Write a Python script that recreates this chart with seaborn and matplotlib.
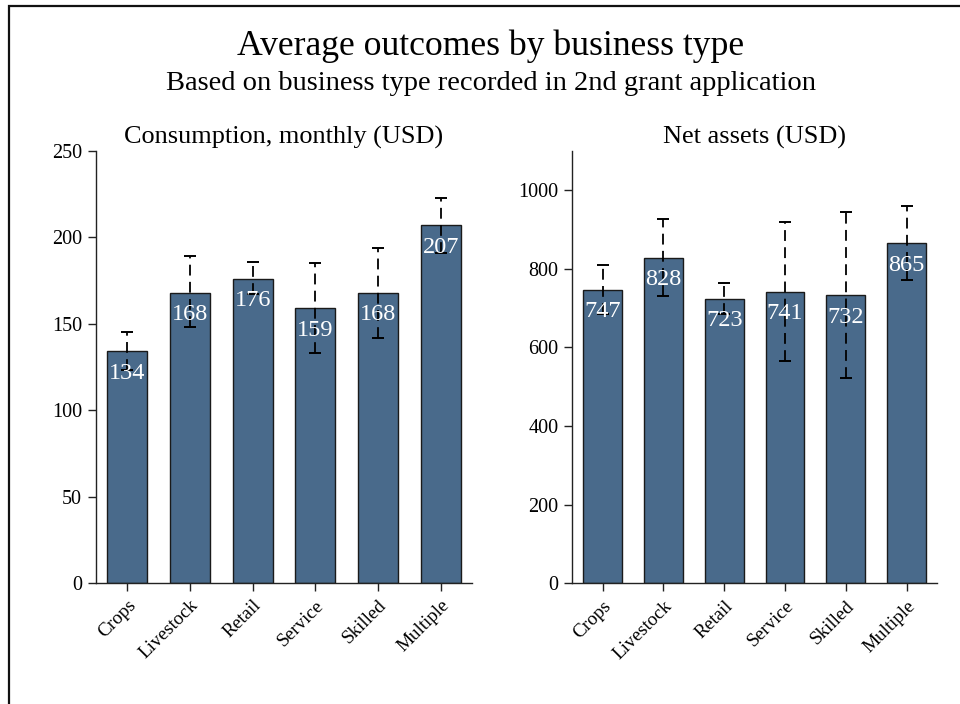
import matplotlib
matplotlib.use("Agg")
import matplotlib.pyplot as plt
from matplotlib.patches import Rectangle
import numpy as np
import pandas as pd
import seaborn as sns

# Business types (from the 2nd grant application)
categories = ["Crops", "Livestock", "Retail", "Service", "Skilled", "Multiple"]

# Monthly consumption (USD): mean and 95% CI bounds
consumption_mean = [134, 168, 176, 159, 168, 207]
consumption_lo = [123.5, 148, 167, 133, 142, 191]
consumption_hi = [145, 189, 186, 185, 194, 223]

# Net assets (USD): mean and 95% CI bounds
assets_mean = [747, 828, 723, 741, 732, 865]
assets_lo = [684, 731, 685, 566, 521, 771]
assets_hi = [810, 926, 763, 918, 945, 959]

consumption_ticks = [0, 50, 100, 150, 200, 250]
assets_ticks = [0, 200, 400, 600, 800, 1000]

sns.set_theme(style="ticks")
plt.rcParams["font.family"] = ["Liberation Serif", "DejaVu Serif"]
plt.rcParams["text.color"] = "black"
plt.rcParams["xtick.color"] = "black"
plt.rcParams["ytick.color"] = "black"

BAR_COLOR = "#496a8b"

fig = plt.figure(figsize=(9.6, 7.04), dpi=100)

# Outer frame of the graph region
fig.patches.append(Rectangle((9 / 960, -0.05), 1.2, 1 - 6 / 704 + 0.05,
                             transform=fig.transFigure, fill=False,
                             edgecolor="#111111", linewidth=1.6, zorder=0))

ax1 = fig.add_axes([0.100, 0.1719, 0.3917, 0.6136])
ax2 = fig.add_axes([0.5961, 0.1714, 0.3799, 0.6145])


def draw_panel(ax, means, lo, hi, title, ticks, ymax):
    df = pd.DataFrame({"type": categories, "value": means})
    sns.barplot(data=df, x="type", y="value", order=categories, ax=ax,
                color=BAR_COLOR, saturation=1, width=0.64,
                edgecolor="#1a1a1a", linewidth=1.0, errorbar=None, zorder=2)
    x = np.arange(len(categories))
    means_arr = np.asarray(means, dtype=float)
    yerr = np.vstack([means_arr - np.asarray(lo), np.asarray(hi) - means_arr])
    eb = ax.errorbar(x, means_arr, yerr=yerr, fmt="none", ecolor="black",
                     elinewidth=1.3, capsize=4, capthick=1.4, zorder=3)
    for coll in eb[2]:
        coll.set_linestyle((0, (6, 3.5)))
    for xi, v in zip(x, means):
        ax.annotate(f"{v:.0f}", (xi, v), xytext=(0, -22),
                    textcoords="offset pixels", ha="center", va="center",
                    color="white", fontsize=17.5, zorder=4)
    ax.set_xlim(-0.5, len(categories) - 0.5)
    ax.set_ylim(0, ymax)
    ax.set_yticks(ticks)
    ax.set_yticklabels([str(t) for t in ticks], fontsize=14.5)
    ax.set_xticks(x)
    ax.set_xticklabels(categories, rotation=45, ha="right",
                       rotation_mode="anchor", fontsize=13.8)
    ax.tick_params(axis="both", direction="out", length=6, width=1.0,
                   color="#222222", pad=4)
    ax.set_xlabel("")
    ax.set_ylabel("")
    ax.set_title(title, fontsize=18.9, pad=5.5)
    for side in ("top", "right"):
        ax.spines[side].set_visible(False)
    for side in ("left", "bottom"):
        ax.spines[side].set_linewidth(1.0)
        ax.spines[side].set_color("#222222")


draw_panel(ax1, consumption_mean, consumption_lo, consumption_hi,
           "Consumption, monthly (USD)", consumption_ticks, 250)
draw_panel(ax2, assets_mean, assets_lo, assets_hi,
           "Net assets (USD)", assets_ticks, 1100)

fig.text(0.5115, 1 - 46 / 704, "Average outcomes by business type",
         ha="center", va="center", fontsize=25.7)
fig.text(0.5115, 1 - 84 / 704,
         "Based on business type recorded in 2nd grant application",
         ha="center", va="center", fontsize=20.5)

fig.savefig("out.png", dpi=100)
